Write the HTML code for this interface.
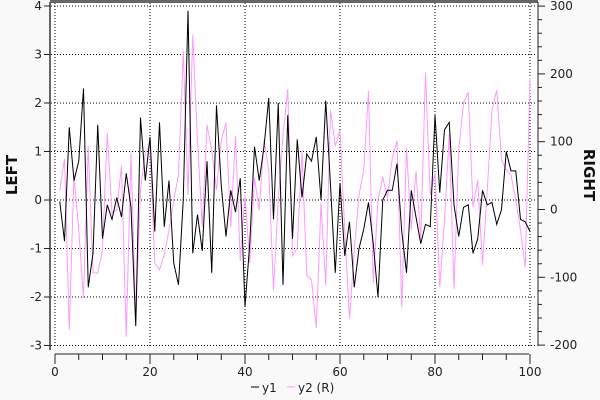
<!DOCTYPE html>
<html><head><meta charset="utf-8"><style>
html,body{margin:0;padding:0;background:#f9f9f9;}
svg{display:block;font-family:"DejaVu Sans","Liberation Sans",sans-serif;}
</style></head><body>
<svg id="s" width="600" height="400" xmlns="http://www.w3.org/2000/svg">
<rect x="50" y="2" width="488" height="348" fill="#fff"/>
<line x1="50" y1="1.5" x2="538" y2="1.5" stroke="#666" stroke-width="3"/>
<g id="grid" stroke="#000" stroke-width="1" stroke-dasharray="1,2"></g>
<polyline id="p2" fill="none" stroke="#ff99ff" stroke-width="1"/>
<polyline id="p1" fill="none" stroke="#000" stroke-width="1"/>
<line x1="50" y1="2" x2="50" y2="350" stroke="#666" stroke-width="2"/>
<line x1="538" y1="2" x2="538" y2="346" stroke="#222" stroke-width="1"/>
<line x1="55" y1="354" x2="529" y2="354" stroke="#222" stroke-width="1"/>
<g id="ax" stroke="#222" stroke-width="1"></g>
<g id="lbl" font-size="12" fill="#222"></g>
<text x="17" y="175" font-size="15" font-weight="bold" fill="#111" text-anchor="middle" transform="rotate(-90 17 175)">LEFT</text>
<text x="584" y="175" font-size="15" font-weight="bold" fill="#111" text-anchor="middle" transform="rotate(90 584 175)">RIGHT</text>
<line x1="251" y1="387" x2="259" y2="387" stroke="#000"/>
<text x="262" y="392" font-size="12" fill="#222">y1</text>
<line x1="287" y1="387" x2="295" y2="387" stroke="#ff99ff"/>
<text x="298" y="392" font-size="12" fill="#222">y2 (R)</text>
</svg>
<script>
var NS="http://www.w3.org/2000/svg";
function el(p,t,a,txt){var e=document.createElementNS(NS,t);for(var k in a)e.setAttribute(k,a[k]);if(txt!=null)e.textContent=txt;document.getElementById(p).appendChild(e);}
var y1=[-0.03,-0.85,1.5,0.4,0.8,2.3,-1.8,-1.1,1.55,-0.8,-0.1,-0.4,0.05,-0.35,0.55,-0.15,-2.6,1.7,0.4,1.3,-0.65,1.6,-0.55,0.4,-1.3,-1.75,0,3.9,-1.1,-0.3,-1.05,0.8,-1.5,1.95,0.3,-0.75,0.2,-0.25,0.45,-2.2,-0.9,1.1,0.4,1.1,2.1,-0.4,2.0,-1.75,1.75,-0.8,1.25,0.05,0.95,0.8,1.3,0.0,2.05,0.3,-1.5,0.35,-1.15,-0.45,-1.8,-1.0,-0.6,-0.05,-0.9,-2.0,0,0.2,0.2,0.75,-0.65,-1.5,0.2,-0.35,-0.9,-0.5,-0.55,1.75,0.15,1.45,1.6,-0.1,-0.75,-0.15,-0.1,-1.1,-0.8,0.2,-0.1,-0.05,-0.5,-0.2,1.0,0.6,0.6,-0.4,-0.45,-0.65];
var y2=[190,159,330,175,230,298,146,273,273,250,133,213,210,166,337,153,320,190,153,145,263,270,255,230,200,175,51,195,35,140,227,125,150,190,140,123,227,136,261,195,263,178,210,140,170,290,200,135,89,256,248,152,275,280,328,203,285,110,146,130,230,319,250,195,170,91,283,200,177,198,158,141,307,148,230,171,240,73,195,173,287,220,134,289,150,103,92,207,180,265,190,110,90,160,170,175,200,230,267,78];
var X=function(i){return 55+4.75*i;};
var p1=[],p2=[];
for(var i=0;i<100;i++){p1.push(X(i+1)+","+(200-48.5*y1[i]).toFixed(1));p2.push(X(i+1)+","+y2[i]);}
document.getElementById("p1").setAttribute("points",p1.join(" "));
document.getElementById("p2").setAttribute("points",p2.join(" "));
for(var v=0;v<=100;v+=20){var x=X(v);el("grid","line",{x1:x,y1:3,x2:x,y2:346});el("lbl","text",{x:x,y:376,"text-anchor":"middle"},v);}
for(var v=0;v<=100;v+=5){var x=X(v);el("ax","line",{x1:x,y1:354,x2:x,y2:(v%20==0?364:360)});}
for(var v=-3;v<=4;v++){var y=200-48.5*v;el("grid","line",{x1:51,y1:y,x2:537,y2:y});el("ax","line",{x1:44,y1:y,x2:50,y2:y});el("lbl","text",{x:42,y:y+4,"text-anchor":"end"},v);}
for(var v=-200;v<=300;v+=20){var y=209.5-0.678*v;el("ax","line",{x1:538,y1:y,x2:(v%100==0?545:542),y2:y});if(v%100==0)el("lbl","text",{x:550,y:y+4},v);}
</script>
</body></html>
